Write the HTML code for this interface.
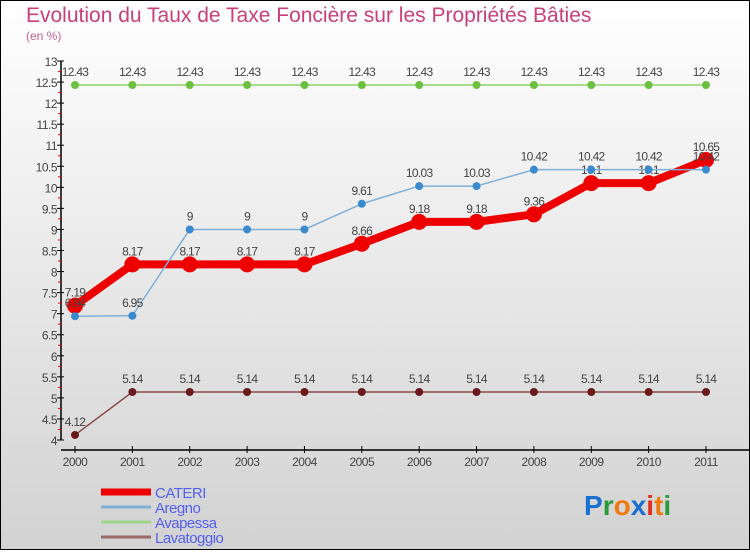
<!DOCTYPE html>
<html><head><meta charset="utf-8"><style>
html,body{margin:0;padding:0}
body{width:750px;height:550px;overflow:hidden;font-family:"Liberation Sans",sans-serif}
</style></head><body>
<svg id="c" width="750" height="550" xmlns="http://www.w3.org/2000/svg">
<defs><linearGradient id="bg" x1="0" y1="0" x2="0" y2="1"><stop offset="0" stop-color="#ffffff"/><stop offset="1" stop-color="#d2d2d2"/></linearGradient></defs>
<rect x="0.5" y="0.5" width="749" height="549" fill="url(#bg)" stroke="#000"/>
<text x="26" y="22" font-size="21" fill="#c8407a">Evolution du Taux de Taxe Foncière sur les Propriétés Bâties</text>
<text x="26" y="40" font-size="12" fill="#c86090">(en %)</text>
<g id="axes"></g><g id="series"></g><g id="legend"></g>
<text x="584" y="515" font-size="28" font-family="Liberation Sans,sans-serif" font-weight="bold"><tspan fill="#1a6fd0">P</tspan><tspan fill="#2a9a3a">r</tspan><tspan fill="#f07a10">o</tspan><tspan fill="#1a6fd0">x</tspan><tspan fill="#e03020">i</tspan><tspan fill="#f07a10">t</tspan><tspan fill="#2a9a3a">i</tspan></text>
</svg>
<script>
const years=["2000","2001","2002","2003","2004","2005","2006","2007","2008","2009","2010","2011"];
const cateri=[7.19,8.17,8.17,8.17,8.17,8.66,9.18,9.18,9.36,10.1,10.1,10.65];
const aregno=[6.94,6.95,9,9,9,9.61,10.03,10.03,10.42,10.42,10.42,10.42];
const avapessa=[12.43,12.43,12.43,12.43,12.43,12.43,12.43,12.43,12.43,12.43,12.43,12.43];
const lavatoggio=[4.12,5.14,5.14,5.14,5.14,5.14,5.14,5.14,5.14,5.14,5.14,5.14];
const yTicks=[4,4.5,5,5.5,6,6.5,7,7.5,8,8.5,9,9.5,10,10.5,11,11.5,12,12.5,13];
const NS="http://www.w3.org/2000/svg";
const X=i=>75+i*(706-75)/11;
const Y=v=>440-(v-4)*(440-61)/9;
function el(t,a,p){const e=document.createElementNS(NS,t);for(const k in a)e.setAttribute(k,a[k]);p.appendChild(e);return e;}
const ax=document.getElementById('axes');
let l=el('line',{x1:61,y1:Y(13),x2:61,y2:440,stroke:'#000','stroke-width':1.5},ax);


l=el('line',{x1:61,y1:450,x2:750,y2:450,stroke:'#000','stroke-width':1.5},ax);


yTicks.forEach((v,i)=>{
  el('line',{x1:57,y1:Y(v),x2:64,y2:Y(v),stroke:'#000'},ax);
  if(i<yTicks.length-1) el('line',{x1:58,y1:(Y(v)+Y(yTicks[i+1]))/2,x2:61,y2:(Y(v)+Y(yTicks[i+1]))/2,stroke:'#e00'},ax);
  const t=el('text',{x:57,y:Y(v)+5,'font-size':12,'text-anchor':'end',fill:'#444','letter-spacing':'-0.5'},ax);
  t.textContent=String(v);
  
  
});
years.forEach((y,i)=>{
  el('line',{x1:X(i),y1:446,x2:X(i),y2:453,stroke:'#000'},ax);
  const t=el('text',{x:X(i),y:466,'font-size':12,'text-anchor':'middle',fill:'#444','letter-spacing':'-0.5'},ax);
  t.textContent=y;
  
  
});
const sg=document.getElementById('series');
function draw(data,name,color,width,r,dot){
  const g=el('g',{},sg);
  
  
  const line=el('polyline',{points:data.map((v,i)=>X(i)+','+Y(v)).join(' '),fill:'none',stroke:color,'stroke-width':width,'stroke-linejoin':'round'},g);
  
  
  data.forEach((v,i)=>{
    const c=el('circle',{cx:X(i),cy:Y(v),r:r,fill:dot},g);
    
    
    const t=el('text',{x:X(i),y:Y(v)-9,'font-size':12,'text-anchor':'middle',fill:'#444','letter-spacing':'-0.7'},g);
    t.textContent=String(v);
    
    
  });
}
draw(avapessa,'avapessa','#8fd36a',1.5,4,'#6cc040');
draw(lavatoggio,'lavatoggio','#8a4a4a',1.5,4,'#6a1a1a');
draw(cateri,'cateri','#ee0000',8,8,'#ee0000');
draw(aregno,'aregno','#7fb0d8',1.5,4,'#3a8ad0');
const lg=document.getElementById('legend');
const items=[['CATERI','#ee0000',7],['Aregno','#7fb0d8',3],['Avapessa','#9ed78a',3],['Lavatoggio','#9a6a6a',3]];
items.forEach((it,i)=>{
  const y=492+i*15;
  const g=el('g',{},lg);
  
  
  el('line',{x1:101,y1:y,x2:151,y2:y,stroke:it[1],'stroke-width':it[2]},g);
  const t=el('text',{x:155,y:y+6,'font-size':15,fill:'#5560ee','letter-spacing':'-0.5'},g);
  t.textContent=it[0];
});
</script>
</body></html>
